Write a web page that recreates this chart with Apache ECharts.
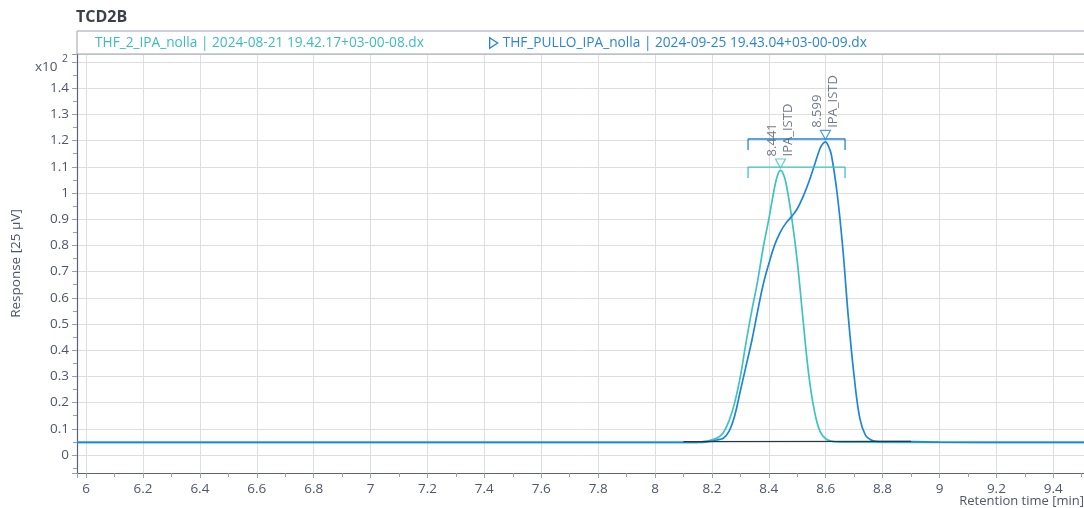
<!DOCTYPE html>
<html>
<head>
<meta charset="utf-8">
<script src="https://cdn.jsdelivr.net/npm/echarts@6/dist/echarts.min.js"></script>
<style>
  html, body { margin: 0; padding: 0; background: #ffffff; }
  #chart { width: 1084px; height: 508px; }
</style>
</head>
<body>
<div id="chart"></div>
<script>
// Detector trace TCD2B, two injections (retention time in min, response in 25 µV x10²)
const seriesNames = [
  'THF_2_IPA_nolla | 2024-08-21 19.42.17+03-00-08.dx',
  'THF_PULLO_IPA_nolla | 2024-09-25 19.43.04+03-00-09.dx'
];

const tealTime = [5.968, 8.10, 8.14, 8.16, 8.18, 8.20, 8.22, 8.24, 8.26, 8.28, 8.30, 8.32, 8.34, 8.36, 8.38, 8.40, 8.42, 8.43, 8.441, 8.45, 8.46, 8.48, 8.50, 8.52, 8.54, 8.56, 8.58, 8.60, 8.62, 8.64, 8.66, 8.70, 9.00, 9.508];
const tealResp = [0.048, 0.048, 0.048, 0.050, 0.053, 0.058, 0.066, 0.085, 0.13, 0.20, 0.30, 0.43, 0.55, 0.66, 0.79, 0.90, 1.02, 1.065, 1.086, 1.075, 1.04, 0.91, 0.74, 0.52, 0.31, 0.17, 0.09, 0.062, 0.053, 0.050, 0.049, 0.049, 0.048, 0.048];

const blueTime = [5.968, 8.10, 8.16, 8.18, 8.20, 8.22, 8.24, 8.26, 8.28, 8.30, 8.32, 8.34, 8.36, 8.38, 8.40, 8.42, 8.44, 8.46, 8.48, 8.50, 8.52, 8.54, 8.56, 8.58, 8.59, 8.599, 8.61, 8.62, 8.64, 8.66, 8.68, 8.70, 8.72, 8.74, 8.76, 8.78, 8.80, 8.90, 9.00, 9.508];
const blueResp = [0.048, 0.048, 0.048, 0.050, 0.053, 0.058, 0.064, 0.09, 0.15, 0.245, 0.34, 0.435, 0.545, 0.65, 0.73, 0.80, 0.85, 0.885, 0.91, 0.94, 0.985, 1.04, 1.105, 1.17, 1.188, 1.195, 1.178, 1.145, 1.00, 0.79, 0.52, 0.30, 0.14, 0.075, 0.057, 0.052, 0.051, 0.051, 0.049, 0.048];

// Integration baseline drawn under the peaks
const baseTime = [8.10, 8.90];
const baseResp = [0.051, 0.052];

// Peak apexes with their identification
const peakTimes = [8.441, 8.599];
const peakResp = [1.086, 1.195];
const peakNames = ['IPA_ISTD', 'IPA_ISTD'];

// Expected-window brackets for each run
const windowStart = 8.327;
const windowEnd = 8.668;
const bracketLevels = [1.099, 1.206];
const bracketDrop = 0.042;

// Axis ranges and titles
const xMin = 5.968, xMax = 9.508;
const yMin = -0.0687, yMax = 1.5305;
const xTitle = 'Retention time [min]';
const yTitle = 'Response [25 µV]';

const colors = ['#3fc3bf', '#1f86d6'];
const textColor = '#4e566a';
const font = '"Open Sans", "Liberation Sans", Arial, sans-serif';

const pairs = (xs, ys) => xs.map((x, i) => [x, ys[i]]);
const bracket = (level) => [
  [windowStart, level - bracketDrop], [windowStart, level],
  [windowEnd, level], [windowEnd, level - bracketDrop]
];
const fmt = (v) => String(+v.toFixed(2));

const chart = echarts.init(document.getElementById('chart'), null, { renderer: 'canvas' });

function peakSeries(i) {
  return {
    type: 'scatter',
    data: [[peakTimes[i], peakResp[i]]],
    symbol: 'triangle',
    symbolRotate: 180,
    symbolSize: [10, 9],
    symbolOffset: [0, -7],
    itemStyle: { color: '#ffffff', borderColor: colors[i], borderWidth: 1.2 },
    label: {
      show: true,
      position: 'top',
      distance: 2,
      rotate: 90,
      align: 'left',
      verticalAlign: 'middle',
      lineHeight: 16,
      fontFamily: font,
      fontSize: 13,
      color: textColor,
      formatter: () => peakTimes[i].toFixed(3) + '\n' + peakNames[i]
    },
    z: 5,
    silent: true
  };
}

function traceSeries(i, xs, ys) {
  return {
    name: seriesNames[i], type: 'line',
    data: pairs(xs, ys),
    showSymbol: false, smooth: 0.4,
    lineStyle: { color: colors[i], width: 1.7 }, itemStyle: { color: colors[i] },
    z: 2 + i, silent: true
  };
}

const option = {
  animation: false,
  backgroundColor: '#ffffff',
  title: {
    text: 'TCD2B',
    left: 76, top: 9, padding: 0,
    textStyle: { fontFamily: font, fontSize: 16, fontWeight: 'bold', color: '#3b3f4a' }
  },
  legend: [
    {
      data: [{ name: seriesNames[0], icon: 'none', textStyle: { color: '#3dbcbc' } }],
      left: 80, top: 36, padding: 0, itemWidth: 10, itemHeight: 12, itemGap: 5,
      textStyle: { fontFamily: font, fontSize: 13.7 },
      selectedMode: false
    },
    {
      data: [{
        name: seriesNames[1],
        icon: 'path://M0,0 L9,6 L0,12 Z',
        itemStyle: { color: 'rgba(0,0,0,0)', borderColor: colors[1], borderWidth: 1.3 },
        textStyle: { color: '#2a86d2' }
      }],
      left: 489, top: 36, padding: 0, itemWidth: 8, itemHeight: 12, itemGap: 5,
      textStyle: { fontFamily: font, fontSize: 13.7 },
      selectedMode: false
    }
  ],
  grid: { left: 77, right: 0, top: 54, bottom: 35, containLabel: false, outerBoundsMode: 'none' },
  xAxis: {
    type: 'value',
    min: xMin, max: xMax,
    splitNumber: 18, minInterval: 0.2, maxInterval: 0.2,
    axisLine: { show: true, onZero: false, lineStyle: { color: '#5b6276', width: 1.2 } },
    axisTick: { show: true, length: 5, lineStyle: { color: '#9aa0ab' } },
    minorTick: { show: true, splitNumber: 2, length: 4, lineStyle: { color: '#9aa0ab' } },
    axisLabel: { fontFamily: font, fontSize: 13.5, color: textColor, margin: 9, showMinLabel: false, showMaxLabel: false, formatter: fmt },
    splitLine: { show: true, lineStyle: { color: '#dedede', width: 1 } }
  },
  yAxis: {
    type: 'value',
    min: yMin, max: yMax,
    splitNumber: 16, minInterval: 0.1, maxInterval: 0.1,
    name: yTitle,
    nameLocation: 'middle', nameGap: 54,
    nameTextStyle: { fontFamily: font, fontSize: 13.5, color: textColor },
    axisLine: { show: true, onZero: false, lineStyle: { color: '#5b6276', width: 1.2 } },
    axisTick: { show: true, length: 5, lineStyle: { color: '#9aa0ab' } },
    minorTick: { show: true, splitNumber: 2, length: 4, lineStyle: { color: '#9aa0ab' } },
    axisLabel: {
      fontFamily: font, fontSize: 13.5, color: textColor, margin: 8,
      showMinLabel: false, showMaxLabel: false,
      formatter: (v) => (Math.abs(v - 1.5) < 1e-6 ? '' : fmt(v))
    },
    splitLine: { show: true, lineStyle: { color: '#dedede', width: 1 } }
  },
  graphic: [
    {
      type: 'rect', silent: true, z: 10,
      shape: { x: 77, y: 31, width: 1020, height: 23 },
      style: { fill: 'none', stroke: '#9ca2ae', lineWidth: 1 }
    },
    {
      type: 'text', silent: true, left: 35, top: 60,
      style: { text: 'x10', fontFamily: font, fontSize: 13.5, fill: textColor }
    },
    {
      type: 'text', silent: true, left: 62, top: 54,
      style: { text: '2', fontFamily: font, fontSize: 10.5, fill: textColor }
    },
    {
      type: 'text', silent: true, right: 0, top: 495,
      style: { text: xTitle, fontFamily: font, fontSize: 13, fill: textColor }
    }
  ],
  series: [
    traceSeries(0, tealTime, tealResp),
    traceSeries(1, blueTime, blueResp),
    {
      name: 'baseline', type: 'line',
      data: pairs(baseTime, baseResp),
      showSymbol: false,
      lineStyle: { color: '#24384c', width: 1.4 },
      z: 4, silent: true
    },
    {
      name: 'window-a', type: 'line', data: bracket(bracketLevels[0]),
      showSymbol: false, lineStyle: { color: colors[0], width: 1.3 }, z: 4, silent: true
    },
    {
      name: 'window-b', type: 'line', data: bracket(bracketLevels[1]),
      showSymbol: false, lineStyle: { color: colors[1], width: 1.3 }, z: 4, silent: true
    },
    peakSeries(0),
    peakSeries(1)
  ]
};

chart.setOption(option);
</script>
</body>
</html>
